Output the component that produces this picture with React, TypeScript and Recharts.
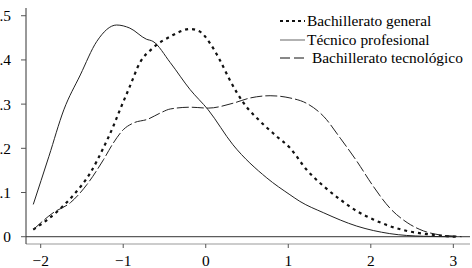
import { Line, LineChart, ReferenceLine, XAxis, YAxis } from "recharts";

// kernel density estimates
const generalX = [-2.09, -1.77, -1.6, -1.4, -1.24, -1.12, -1.04, -0.92, -0.8, -0.64, -0.43, -0.19, -0.07, 0.05, 0.17, 0.29, 0.46, 0.66, 0.86, 1.02, 1.22, 1.43, 1.63, 1.83, 2.03, 2.23, 2.44, 2.72, 2.92, 3.05];
const generalY = [0.016, 0.062, 0.095, 0.144, 0.201, 0.25, 0.287, 0.34, 0.393, 0.427, 0.453, 0.47, 0.464, 0.438, 0.4, 0.355, 0.302, 0.261, 0.227, 0.201, 0.152, 0.114, 0.084, 0.058, 0.039, 0.024, 0.013, 0.005, 0.001, 0];

const tecnicoX = [-2.09, -1.9, -1.72, -1.52, -1.32, -1.08, -0.92, -0.72, -0.64, -0.43, -0.19, 0.03, 0.33, 0.74, 1.02, 1.14, 1.43, 1.83, 2.23, 2.64, 3.0];
const tecnicoY = [0.073, 0.182, 0.287, 0.366, 0.442, 0.479, 0.472, 0.447, 0.442, 0.394, 0.333, 0.287, 0.208, 0.133, 0.095, 0.08, 0.054, 0.024, 0.007, 0.001, 0];

const tecnologicoX = [-2.09, -1.85, -1.64, -1.44, -1.24, -1.12, -1.0, -0.88, -0.7, -0.55, -0.43, -0.19, 0.03, 0.33, 0.54, 0.78, 1.02, 1.22, 1.43, 1.63, 1.83, 2.03, 2.23, 2.44, 2.64, 2.84, 3.04, 3.1];
const tecnologicoY = [0.016, 0.054, 0.077, 0.118, 0.174, 0.212, 0.242, 0.257, 0.266, 0.28, 0.289, 0.293, 0.291, 0.302, 0.314, 0.319, 0.314, 0.302, 0.272, 0.223, 0.171, 0.114, 0.065, 0.032, 0.013, 0.004, 0.001, 0];

const xTicks = [-2, -1, 0, 1, 2, 3];
const yTicks = [0, 0.1, 0.2, 0.3, 0.4, 0.5];

const seriesNames = ["Bachillerato general", "Técnico profesional", "Bachillerato tecnológico"];

const toPoints = (xs: number[], ys: number[]) => xs.map((x, i) => ({ x, y: ys[i] }));

const FONT = "'Liberation Serif', 'Times New Roman', serif";

const fmtY = (v: number) => (v === 0 ? "0" : String(v).replace(/^0/, ""));

const legendStyles = [
  { dash: "3 3", width: 2, color: "#111" },
  { dash: undefined, width: 1.5, color: "#999" },
  { dash: "10 4", width: 1, color: "#111" },
];

function ChartLegend() {
  return (
    <div style={{ position: "absolute", top: 12, left: 279, fontFamily: FONT, fontSize: 15.4, color: "#000" }}>
      {seriesNames.map((name, i) => (
        <div key={name} style={{ display: "flex", alignItems: "center", height: 18.5 }}>
          <svg width={i === 2 ? 33 : 28} height={10}>
            <line x1={1} y1={5} x2={26} y2={5} stroke={legendStyles[i].color} strokeWidth={legendStyles[i].width} strokeDasharray={legendStyles[i].dash} />
          </svg>
          <span style={{ whiteSpace: "nowrap" }}>{name}</span>
        </div>
      ))}
    </div>
  );
}

export default function App() {
  return (
    <div style={{ position: "absolute", left: 0, top: 0, width: 472, height: 268, background: "#fff" }}>
      <LineChart width={472} height={268} margin={{ top: 8, right: 2, left: 0, bottom: 0 }}>
        <XAxis
          type="number"
          dataKey="x"
          domain={[-2.178, 3.202]}
          ticks={xTicks}
          allowDataOverflow
          height={24}
          tickSize={4}
          tickMargin={7}
          axisLine={{ stroke: "#999" }}
          tickLine={{ stroke: "#555" }}
          tick={{ fontFamily: FONT, fontSize: 15.4, fill: "#000" }}
          tickFormatter={(v: number) => (v < 0 ? "\u2212" + Math.abs(v) : String(v))}
        />
        <YAxis
          type="number"
          domain={[-0.0165, 0.5175]}
          ticks={yTicks}
          allowDataOverflow
          width={26}
          tickSize={5}
          tickMargin={10}
          axisLine={{ stroke: "#333" }}
          tickLine={{ stroke: "#555" }}
          tick={{ fontFamily: FONT, fontSize: 15.4, fill: "#000" }}
          tickFormatter={fmtY}
        />
        <ReferenceLine y={0} stroke="#333" strokeWidth={1} />
        <Line data={toPoints(generalX, generalY)} dataKey="y" name={seriesNames[0]} type="monotone" stroke="#111" strokeWidth={2.2} strokeDasharray="3 4" dot={false} isAnimationActive={false} />
        <Line data={toPoints(tecnicoX, tecnicoY)} dataKey="y" name={seriesNames[1]} type="monotone" stroke="#222" strokeWidth={1} dot={false} isAnimationActive={false} />
        <Line data={toPoints(tecnologicoX, tecnologicoY)} dataKey="y" name={seriesNames[2]} type="monotone" stroke="#222" strokeWidth={1} strokeDasharray="12 3" dot={false} isAnimationActive={false} />
      </LineChart>
      <ChartLegend />
    </div>
  );
}
